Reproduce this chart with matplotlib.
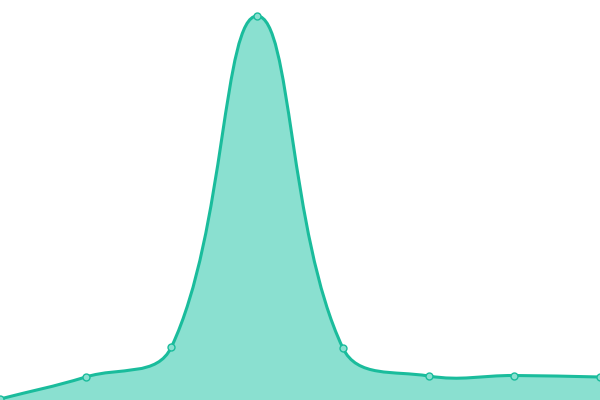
import matplotlib
matplotlib.use("Agg")
import matplotlib.pyplot as plt
import numpy as np
from matplotlib.path import Path
from matplotlib.patches import PathPatch

# data
labels = ["1", "2", "3", "4", "5", "6", "7", "8"]
values = [1, 23, 53, 384, 52, 24, 24.5, 23]

line_color = "#1abc9c"
fill_color = "#8ae0d0"
tension = 0.4

fig = plt.figure(figsize=(6, 4), dpi=100)
ax = fig.add_axes([0, 0, 1, 1])
ax.set_xlim(0, len(values) - 1)
ax.set_ylim(0, 400)
ax.axis("off")

x = np.arange(len(values))
pts = ax.transData.transform(np.column_stack([x, values]))

# chart.js style spline, computed in pixel space
verts = [pts[0]]
codes = [Path.MOVETO]
ctrl = []
n = len(pts)
for i in range(n):
    p0 = pts[max(i - 1, 0)]
    p1 = pts[i]
    p2 = pts[min(i + 1, n - 1)]
    d01 = np.hypot(*(p1 - p0))
    d12 = np.hypot(*(p2 - p1))
    tot = d01 + d12
    s01 = d01 / tot if tot else 0
    s12 = d12 / tot if tot else 0
    prev_c = p1 - tension * s01 * (p2 - p0)
    next_c = p1 + tension * s12 * (p2 - p0)
    ctrl.append((prev_c, next_c))
for i in range(1, n):
    verts += [ctrl[i - 1][1], ctrl[i][0], pts[i]]
    codes += [Path.CURVE4] * 3

inv = ax.transData.inverted()
curve = inv.transform(np.array(verts))

fill_verts = np.vstack([curve, [[x[-1], 0], [x[0], 0], curve[0]]])
fill_codes = codes + [Path.LINETO, Path.LINETO, Path.CLOSEPOLY]
ax.add_patch(PathPatch(Path(fill_verts, fill_codes), facecolor=fill_color,
                       edgecolor="none", zorder=1))
ax.add_patch(PathPatch(Path(curve, codes), facecolor="none",
                       edgecolor=line_color, lw=2.2, zorder=2,
                       capstyle="round", joinstyle="round"))
ax.plot(x, values, "o", ms=5, mfc=fill_color, mec=line_color, mew=1,
        zorder=3, clip_on=False)

fig.savefig("out.png", dpi=100)
